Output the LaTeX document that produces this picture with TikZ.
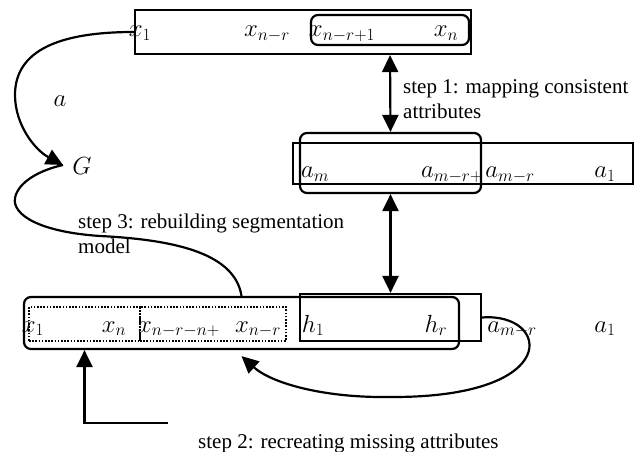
\documentclass[tikz,border=0pt]{standalone}
\usepackage{fontspec}
\setmainfont{Liberation Serif}
\usetikzlibrary{arrows.meta}
\begin{document}
\begin{tikzpicture}[x=1bp,y=-1bp,
  every node/.style={font=\fontsize{21bp}{25bp}\selectfont},
  plainbox/.style={draw, line width=2.2bp, inner sep=0pt},
  roundbox/.style={draw, line width=2.2bp, inner sep=0pt, rounded corners=7bp},
  dotbox/.style={draw, line width=1.8bp, inner sep=0pt, dash pattern=on 1.6bp off 1.6bp},
  lbl/.style={anchor=base, inner sep=0pt, font=\fontsize{23bp}{27bp}\selectfont},
  txt/.style={anchor=north west, align=left, inner sep=0pt},
  conn/.style={line width=2.2bp},
  arr/.style={line width=2.2bp, -{Triangle[length=17bp,width=16bp]}},
  darr/.style={line width=2.2bp, {Triangle[length=17bp,width=16bp]}-{Triangle[length=17bp,width=16bp]}}
]
\useasboundingbox (0,0) rectangle (641,452);

% boxes
\node[plainbox, minimum width=336bp, minimum height=44bp] (top) at (303,32) {};
\node[roundbox, minimum width=158bp, minimum height=30bp] (topsel) at (390,30) {};
\node[plainbox, minimum width=340bp, minimum height=41bp] (arow) at (463,163.5) {};
\node[roundbox, minimum width=181bp, minimum height=60bp] (asel) at (390.5,163) {};
\node[plainbox, minimum width=181bp, minimum height=47bp] (hrow) at (390.5,317.5) {};
\node[roundbox, minimum width=435bp, minimum height=52bp] (big) at (241.5,323) {};
\node[dotbox, minimum width=111bp, minimum height=34bp] (dot1) at (84.5,324) {};
\node[dotbox, minimum width=146bp, minimum height=34bp] (dot2) at (213,324) {};

% top row labels
\node[lbl] (tx1) at (140,37) {$x_1$};
\node[lbl] (txnr) at (267,37) {$x_{n-r}$};
\node[lbl] (txnr1) at (342,37) {$x_{n-r+1}$};
\node[lbl] (txn) at (446,37) {$x_n$};

% a row labels
\node[lbl] (am) at (315,178) {$a_m$};
\node[lbl] (amr1) at (452,178) {$a_{m-r+}$};
\node[lbl] (amr) at (510,178) {$a_{m-r}$};
\node[lbl] (a1) at (605,178) {$a_1$};

% bottom row labels
\node[lbl] (bx1) at (33,332) {$x_1$};
\node[lbl] (bxn) at (114,332) {$x_n$};
\node[lbl] (bxnrn) at (179,332) {$x_{n-r-n+}$};
\node[lbl] (bxnr) at (258,332) {$x_{n-r}$};
\node[lbl] (h1) at (313,332) {$h_1$};
\node[lbl] (hr) at (436,332) {$h_r$};
\node[lbl] (bamr) at (512,332) {$a_{m-r}$};
\node[lbl] (ba1) at (605,332) {$a_1$};

% G and a
\node[lbl] (G) at (82,175) {$G$};
\node[lbl] (alab) at (60,107) {$a$};

% step labels
\node[txt] (s1) at (403,79) {step 1: mapping consistent\\attributes};
\node[txt] (s3) at (78,214) {step 3: rebuilding segmentation\\model};
\node[anchor=base west, inner sep=0pt] (s2) at (198,448) {step 2: recreating missing attributes};

% coordinates
\coordinate (gtip) at (63,165);
\coordinate (s2tip) at ([yshift=-6bp]big.south);
\coordinate (s2start) at (168,423);

% connectors
\draw[darr] (top.south -| topsel.south) -- (asel.north);
\draw[darr] (asel.south) -- (hrow.north);
\draw[arr] (top.west) .. controls (60,32) and (15,50) .. (15,95)
  .. controls (15,125) and (35,150) .. (gtip);
\draw[conn] (big.north) .. controls (235,255) and (180,240) .. (100,236)
  .. controls (40,232) and (12,215) .. (15,198)
  .. controls (18,182) and (40,170) .. (gtip);
\draw[arr] (hrow.east) .. controls (550,312) and (565,398) .. (390,397)
  .. controls (320,398) and (270,382) .. (s2tip);
\draw[arr] (s2start) -| (big.south -| dot1.south);
\end{tikzpicture}
\end{document}
